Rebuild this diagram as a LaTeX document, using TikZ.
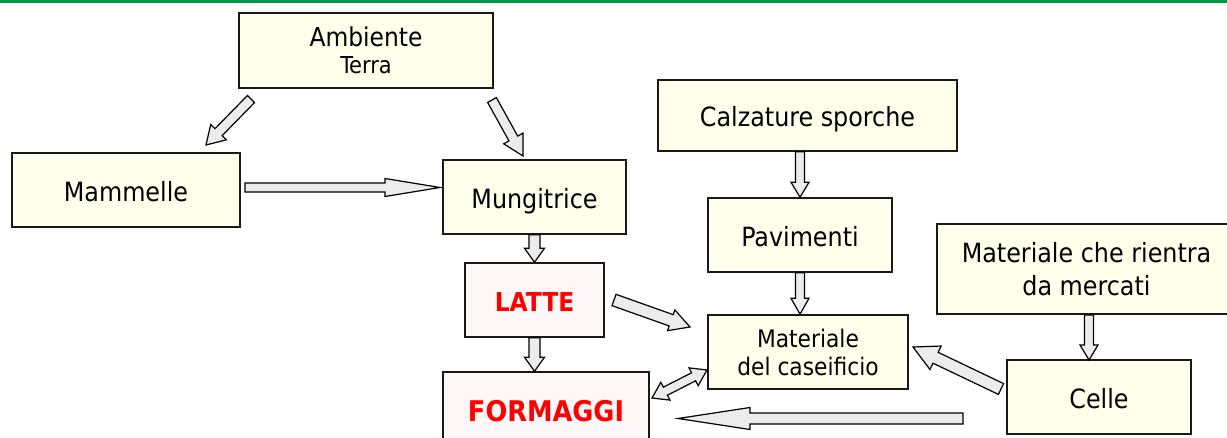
\documentclass[tikz,border=0pt]{standalone}
\usepackage{fontspec}
\setmainfont{DejaVu Sans Condensed}
\usetikzlibrary{calc}
\definecolor{boxy}{RGB}{255,255,236}
\definecolor{boxp}{RGB}{253,247,247}
\definecolor{boxline}{RGB}{25,25,25}
\definecolor{topg}{RGB}{0,150,70}
\definecolor{arrg}{RGB}{236,236,236}
\definecolor{txtred}{RGB}{255,0,0}
% block arrow: start, tip, shaft half width, head half width, head length
\newcommand\barrow[5]{%
 \coordinate (baS) at (#1); \coordinate (baE) at (#2);
 \coordinate (baP) at ($(baE)!#5!(baS)$);
 \draw[blockarr] ($(baS)!#3!90:(baE)$) -- ($(baP)!#3!-90:(baS)$) -- ($(baP)!#4!-90:(baS)$) -- (baE)
   -- ($(baP)!#4!90:(baS)$) -- ($(baP)!#3!90:(baS)$) -- ($(baS)!#3!-90:(baE)$) -- cycle;}
% double block arrow
\newcommand\dbarrow[5]{%
 \coordinate (daA) at (#1); \coordinate (daB) at (#2);
 \coordinate (daPA) at ($(daA)!#5!(daB)$);
 \coordinate (daPB) at ($(daB)!#5!(daA)$);
 \draw[blockarr] (daA) -- ($(daPA)!#4!-90:(daB)$) -- ($(daPA)!#3!-90:(daB)$) -- ($(daPB)!#3!90:(daA)$)
   -- ($(daPB)!#4!90:(daA)$) -- (daB) -- ($(daPB)!#4!-90:(daA)$) -- ($(daPB)!#3!-90:(daA)$)
   -- ($(daPA)!#3!90:(daB)$) -- ($(daPA)!#4!90:(daB)$) -- cycle;}
\begin{document}
\begin{tikzpicture}[x=1pt,y=-1pt,
  box/.style 2 args={draw=boxline, line width=1.5pt, fill=boxy, minimum width=#1, minimum height=#2, inner sep=0pt, align=center, font=\fontsize{26.5}{31}\selectfont},
  oneline/.style={text height=28pt, text depth=5.5pt},
  pbox/.style 2 args={box={#1}{#2}, fill=boxp, text=txtred, font=\bfseries\fontsize{26}{28}\selectfont},
  blockarr/.style={draw=black, line width=1.2pt, fill=arrg, line join=miter}]
\useasboundingbox (0,0) rectangle (1227,438);
\clip (0,0) rectangle (1227,438);
\fill[topg] (0,0) rectangle (1227,3.2);
% nodes
\node[box={254}{75}, font=\fontsize{26}{27}\selectfont] (amb) at (366,50.5) {Ambiente\\\fontsize{23.3}{27}\selectfont Terra};
\node[box={228}{74}, oneline] (mam) at (126,190) {Mammelle};
\node[box={183}{74}, oneline] (mun) at (534.5,197) {Mungitrice};
\node[pbox={139}{74}, oneline] (latte) at (534.5,300) {LATTE};
\node[pbox={206}{74}, oneline, text height=30pt, font=\bfseries\fontsize{28.5}{32}\selectfont] (form) at (546,409) {FORMAGGI};
\node[box={299}{71}, oneline] (calz) at (807.5,115.5) {Calzature sporche};
\node[box={184}{74}, oneline] (pav) at (800,235) {Pavimenti};
\node[box={200}{74}, font=\fontsize{24.2}{28}\selectfont] (matc) at (808,352) {Materiale\\del caseificio};
\node[box={299}{90}, font=\fontsize{26.5}{33}\selectfont] (mer) at (1086.5,269) {Materiale che rientra\\da mercati};
\node[box={184}{74}, oneline] (celle) at (1099,397) {Celle};
% free arrow ends
\coordinate (a1s) at (251,99);   \coordinate (a1e) at (206,145);
\coordinate (a2s) at (492,100);  \coordinate (a2e) at (523,156);
\coordinate (a3s) at (245,187.5);  \coordinate (a3e) at (440,187.5);
\coordinate (a4s) at (614,300);  \coordinate (a4e) at (690,327);
\coordinate (a5s) at (1001,389); \coordinate (a5e) at (913,347);
\coordinate (a6s) at (963,418.5);  \coordinate (a6e) at (678,418.5);
\coordinate (a7s) at (652,398);  \coordinate (a7e) at (707,370);
\coordinate (a8s) at (1089,315); \coordinate (a8e) at (1089,360);
% arrows
\barrow{a1s}{a1e}{5pt}{11pt}{18pt}
\barrow{a2s}{a2e}{5pt}{11pt}{20pt}
\barrow{a3s}{a3e}{4.5pt}{9pt}{55pt}
\barrow{mun.south}{latte.north}{5.5pt}{10pt}{14pt}
\barrow{latte.south}{latte.south |- form.north}{5.5pt}{10pt}{14pt}
\barrow{pav.north |- calz.south}{pav.north}{4.5pt}{9pt}{15pt}
\barrow{pav.south}{pav.south |- matc.north}{4.5pt}{9pt}{16pt}
\barrow{a8s}{a8e}{4.5pt}{9pt}{15pt}
\barrow{a4s}{a4e}{6pt}{11pt}{20pt}
\barrow{a5s}{a5e}{6pt}{13pt}{25pt}
\barrow{a6s}{a6e}{5.5pt}{11pt}{72pt}
\dbarrow{a7s}{a7e}{4.5pt}{10pt}{15pt}
\end{tikzpicture}
\end{document}
